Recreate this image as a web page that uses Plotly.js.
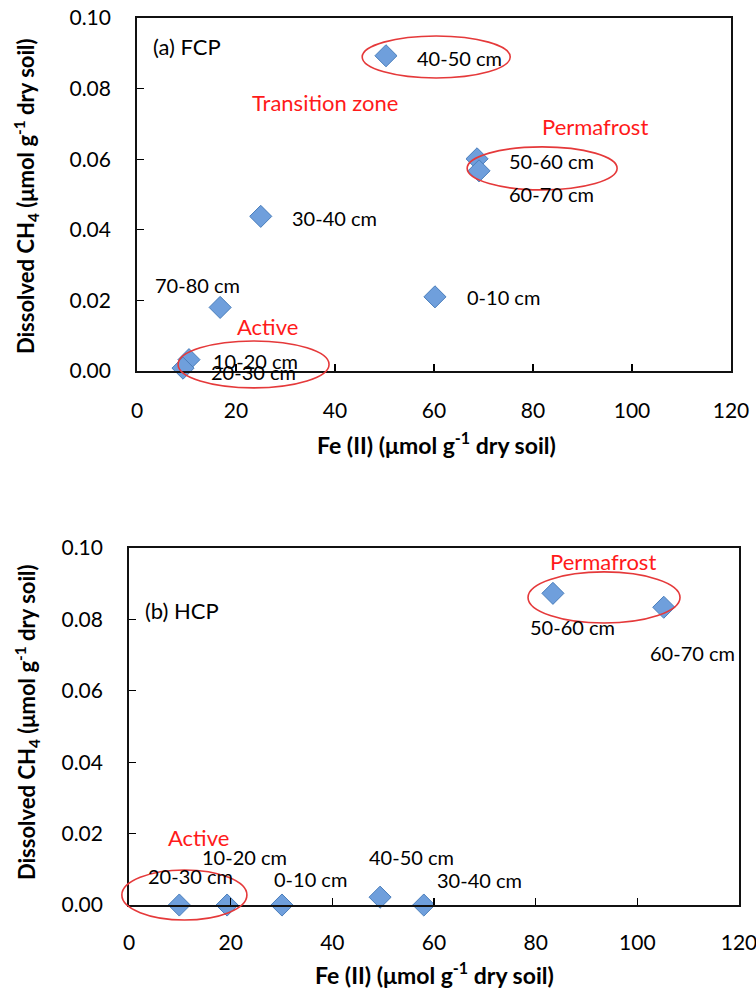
<!DOCTYPE html>
<html>
<head>
<meta charset="utf-8">
<script src="https://cdn.plot.ly/plotly-3.0.1.min.js"></script>
<style>html,body{margin:0;padding:0;background:#fff;}#chart{width:756px;height:994px;}</style>
</head>
<body>
<div id="chart"></div>
<script>
// ---- Data: (a) FCP ----
var fcpDepths = ["0-10 cm", "10-20 cm", "20-30 cm", "30-40 cm", "40-50 cm", "50-60 cm", "60-70 cm", "70-80 cm"];
var fcpFe     = [60.2, 10.5, 9.3, 25.0, 50.3, 68.7, 69.1, 16.8];
var fcpCH4    = [0.021, 0.0032, 0.0008, 0.0438, 0.0893, 0.0601, 0.0567, 0.0180];

// ---- Data: (b) HCP ----
var hcpDepths = ["0-10 cm", "10-20 cm", "20-30 cm", "30-40 cm", "40-50 cm", "50-60 cm", "60-70 cm"];
var hcpFe     = [30.1, 19.3, 9.9, 58.0, 49.4, 83.4, 105.2];
var hcpCH4    = [0.0, 0.0, 0.0, 0.0, 0.0022, 0.0873, 0.0834];

var xTicks = [0, 20, 40, 60, 80, 100, 120];
var yTicks = [0, 0.02, 0.04, 0.06, 0.08, 0.10];

// ---- Styles / placement (not data) ----
var FONT = "Lato, 'Open Sans', sans-serif";
var domA = {x: [0.1812, 0.9669], y: [0.6268, 0.9819]};
var domB = {x: [0.1706, 0.9775], y: [0.0895, 0.4487]};
var labelPlaceA = {
  "0-10 cm":  ["left", 30, 0],
  "10-20 cm": ["left", 22, -1],
  "20-30 cm": ["left", 26, -4],
  "30-40 cm": ["left", 29, -2],
  "40-50 cm": ["left", 29, -2],
  "50-60 cm": ["left", 30, -2],
  "60-70 cm": ["left", 28, -23],
  "70-80 cm": ["center", -23, 22]
};
var labelPlaceB = {
  "0-10 cm":  ["left", -10, 26],
  "10-20 cm": ["center", 17, 48],
  "20-30 cm": ["center", 11, 29],
  "30-40 cm": ["left", 11, 25],
  "40-50 cm": ["center", 31, 40],
  "50-60 cm": ["center", 20, -34],
  "60-70 cm": ["center", 29, -46]
};

function px(dom, range, v) { return dom[0] + (dom[1] - dom[0]) * (v - range[0]) / (range[1] - range[0]); }
function ellipse(dom, x0, x1, y0, y1) {
  return {type: "circle", xref: "paper", yref: "paper",
    x0: px(dom.x, [0, 120], x0), x1: px(dom.x, [0, 120], x1),
    y0: px(dom.y, [0, 0.1], y0), y1: px(dom.y, [0, 0.1], y1),
    line: {color: "#e5393a", width: 1.6}, layer: "above"};
}

var markerStyle = {symbol: "diamond", size: 17, color: "#6f9fdc", line: {color: "#4a7ebb", width: 1}};

var traces = [
  {type: "scatter", mode: "markers", x: fcpFe, y: fcpCH4, xaxis: "x", yaxis: "y", marker: markerStyle, cliponaxis: false, hoverinfo: "skip"},
  {type: "scatter", mode: "markers", x: hcpFe, y: hcpCH4, xaxis: "x2", yaxis: "y2", marker: markerStyle, cliponaxis: false, hoverinfo: "skip"}
];

var labelFont = {family: FONT, size: 20, color: "#000"};
var annotations = [];
fcpDepths.forEach(function (d, i) {
  var p = labelPlaceA[d];
  annotations.push({xref: "x", yref: "y", x: fcpFe[i], y: fcpCH4[i], text: d, showarrow: false,
    xanchor: p[0], yanchor: "middle", xshift: p[1], yshift: p[2], font: labelFont});
});
hcpDepths.forEach(function (d, i) {
  var p = labelPlaceB[d];
  annotations.push({xref: "x2", yref: "y2", x: hcpFe[i], y: hcpCH4[i], text: d, showarrow: false,
    xanchor: p[0], yanchor: "middle", xshift: p[1], yshift: p[2], font: labelFont});
});

var red = {family: FONT, size: 22, color: "#ff1a1a"};
function redNote(xr, yr, x, y, t) {
  return {xref: xr, yref: yr, x: x, y: y, text: t, showarrow: false, xanchor: "center", yanchor: "middle", font: red};
}
annotations = annotations.concat([
  redNote("x", "y", 38, 0.0762, "Transition zone"),
  redNote("x", "y", 92.5, 0.0694, "Permafrost"),
  redNote("x", "y", 26.3, 0.0127, "Active"),
  redNote("x2", "y2", 93.3, 0.0961, "Permafrost"),
  redNote("x2", "y2", 13.6, 0.0188, "Active"),
  {xref: "x", yref: "y", x: 2.8, y: 0.0918, text: "(a) FCP", showarrow: false, xanchor: "left", yanchor: "middle", font: {family: FONT, size: 22, color: "#000"}},
  {xref: "x2", yref: "y2", x: 2.8, y: 0.0824, text: "(b) HCP", showarrow: false, xanchor: "left", yanchor: "middle", font: {family: FONT, size: 22, color: "#000"}}
]);

var xTitle = "<b>Fe (II) (μmol g<sup>-1</sup> dry soil)</b>";
var yTitle = "<b>Dissolved CH<sub>4</sub> (μmol g<sup>-1</sup> dry soil)</b>";
function titleNote(x, y, t, ang, size) {
  return {xref: "paper", yref: "paper", x: x, y: y, text: t, showarrow: false, textangle: ang,
    xanchor: "center", yanchor: "middle", font: {family: FONT, size: size, color: "#000"}};
}
annotations = annotations.concat([
  titleNote(0.578, 0.5543, xTitle, 0, 23),
  titleNote(0.575, 0.0211, xTitle, 0, 23),
  titleNote(0.0344, 0.8028, yTitle, -90, 22),
  titleNote(0.0357, 0.2736, yTitle, -90, 22)
]);

var shapes = [
  ellipse(domA, 45.5, 75.4, 0.083, 0.0949),
  ellipse(domA, 66.7, 97.0, 0.0513, 0.0635),
  ellipse(domA, 8.3, 38.8, -0.0048, 0.0085),
  ellipse(domB, 78.5, 108.4, 0.079, 0.0933),
  ellipse(domB, -1.4, 23.2, -0.0042, 0.0098)
];

function xAx(dom, anchor, standoff) {
  return {domain: dom, anchor: anchor, range: [0, 120], tickvals: xTicks, ticktext: xTicks.map(String),
    ticks: "inside", ticklen: 7, tickwidth: 1.2, tickcolor: "#000", showline: true, mirror: true,
    linecolor: "#111", linewidth: 1.8, showgrid: false, zeroline: false, ticklabelstandoff: standoff,
    ticklabeloverflow: "allow",
    tickfont: {family: FONT, size: 21, color: "#000"}, fixedrange: true};
}
function yAx(dom, anchor) {
  return {domain: dom, anchor: anchor, range: [0, 0.1], tickvals: yTicks, ticktext: yTicks.map(function (v) { return v.toFixed(2); }),
    ticks: "inside", ticklen: 7, tickwidth: 1.2, tickcolor: "#000", showline: true, mirror: true,
    linecolor: "#111", linewidth: 1.8, showgrid: false, zeroline: false, ticklabelstandoff: 20,
    ticklabeloverflow: "allow",
    tickfont: {family: FONT, size: 21, color: "#000"}, fixedrange: true};
}

var layout = {
  width: 756, height: 994, margin: {l: 0, r: 0, t: 0, b: 0},
  paper_bgcolor: "#fff", plot_bgcolor: "#fff", showlegend: false,
  xaxis: xAx(domA.x, "y", 20), yaxis: yAx(domA.y, "x"),
  xaxis2: xAx(domB.x, "y2", 18), yaxis2: yAx(domB.y, "x2"),
  annotations: annotations, shapes: shapes
};

Plotly.newPlot("chart", traces, layout, {displayModeBar: false, staticPlot: true});
</script>
</body>
</html>
